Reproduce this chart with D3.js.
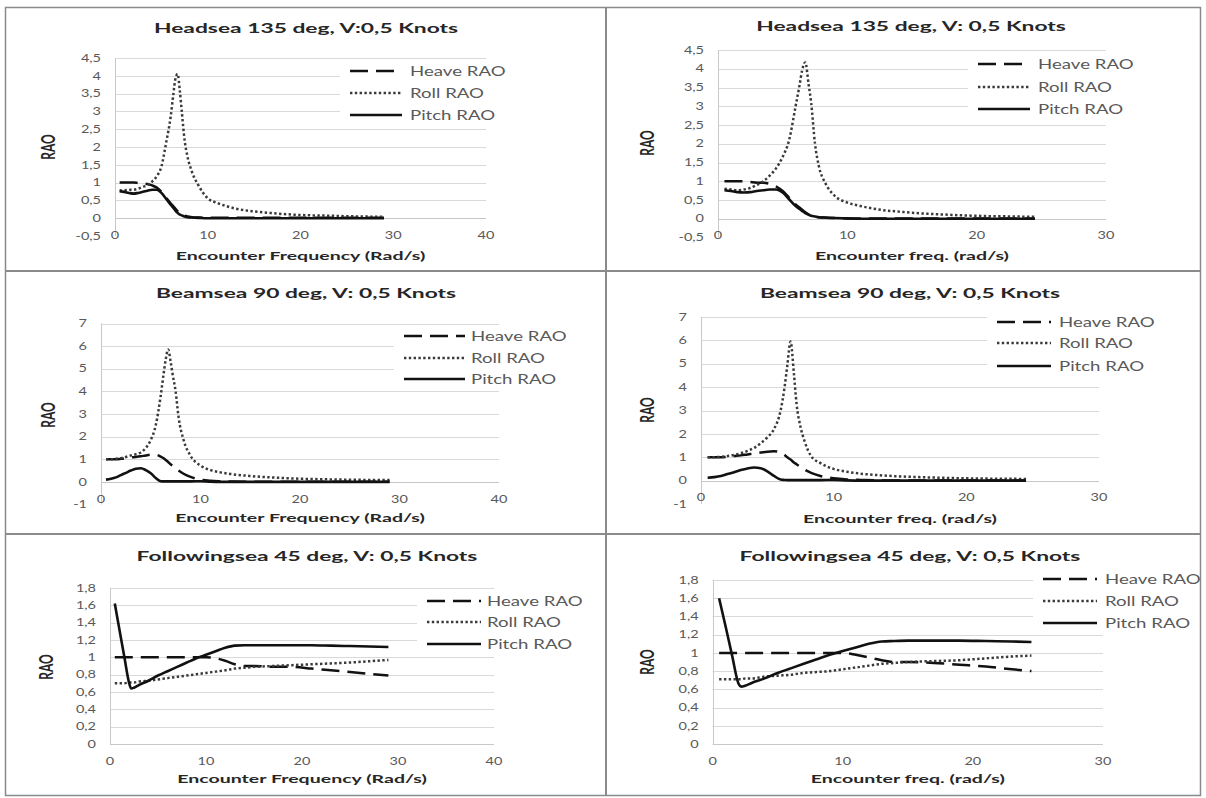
<!DOCTYPE html>
<html><head><meta charset="utf-8">
<script src="https://cdn.jsdelivr.net/npm/d3@7"></script>
<style>body{margin:0;background:#fff} svg{display:block}</style>
</head><body><svg id="c" width="1206" height="798"></svg>
<script>
// ---------------- DATA ----------------
const seriesNames = ["Heave RAO", "Roll RAO", "Pitch RAO"];
const titles = [
  "Headsea 135 deg, V:0,5 Knots", "Headsea 135 deg, V: 0,5 Knots",
  "Beamsea 90 deg, V: 0,5 Knots", "Beamsea 90 deg, V: 0,5 Knots",
  "Followingsea 45 deg, V: 0,5 Knots", "Followingsea 45 deg, V: 0,5 Knots"
];
const xTitleLeft = "Encounter Frequency (Rad/s)";
const xTitleRight = "Encounter freq. (rad/s)";
const yTitle = "RAO";

const xTicksLeft = [0, 10, 20, 30, 40];
const xTicksRight = [0, 10, 20, 30];
const yTicksHead = [-0.5, 0, 0.5, 1, 1.5, 2, 2.5, 3, 3.5, 4, 4.5];
const yTicksBeam = [-1, 0, 1, 2, 3, 4, 5, 6, 7];
const yTicksFollow = [0, 0.2, 0.4, 0.6, 0.8, 1, 1.2, 1.4, 1.6, 1.8];

const freqLeft  = [0.5,1,1.5,2,2.5,3,3.5,4,4.5,5,5.5,6,6.3,6.5,6.75,7,7.2,7.5,7.8,8.3,9,10,11,12,13,15,17,20,23,26,29];
const freqRight = [0.5,1,1.5,2,2.5,3,3.5,4,4.5,5,5.5,6,6.3,6.5,6.75,7,7.2,7.5,7.8,8.3,9,10,11,12,13,14,15,17,19,21,23,24.5];
const freqFollowLeft  = [0.5,1,1.5,2,2.2,2.5,3,4,5,6,7,8,9,10,11,12,13,14,15,17,19,21,23,25,27,29];
const freqFollowRight = [0.5,1,1.5,2,2.2,2.5,3,4,5,6,7,8,9,10,11,12,13,14,15,17,19,21,23,24.5];

// Headsea, left chart
const headLeftHeave = [1.0,1.0,1.0,1.0,0.99,0.98,0.96,0.92,0.86,0.74,0.58,0.42,0.33,0.27,0.2,0.14,0.11,0.07,0.05,0.03,0.02,0.01,0.01,0.01,0.01,0.01,0.01,0.01,0.01,0.01,0.01];
const headLeftRoll  = [0.78,0.78,0.8,0.8,0.83,0.88,0.93,1.03,1.18,1.45,2.1,2.85,3.5,3.9,4.05,3.55,3.0,2.2,1.75,1.3,0.92,0.56,0.43,0.34,0.27,0.19,0.14,0.09,0.07,0.05,0.04];
const headLeftPitch = [0.76,0.74,0.71,0.69,0.71,0.74,0.77,0.8,0.8,0.71,0.55,0.38,0.29,0.22,0.15,0.1,0.08,0.05,0.03,0.02,0.01,0,0,0,0,0,0,0,0,0,0];
// Headsea, right chart
const headRightHeave = [1.0,1.0,1.0,1.0,0.98,0.96,0.96,0.93,0.86,0.74,0.56,0.38,0.3,0.24,0.17,0.12,0.09,0.06,0.04,0.03,0.02,0.01,0.01,0.01,0.01,0.01,0.01,0.01,0.01,0.01,0.01,0.01];
const headRightRoll  = [0.8,0.78,0.76,0.78,0.82,0.9,1.0,1.15,1.35,1.65,2.1,3.0,3.55,3.95,4.17,3.6,3.1,2.0,1.4,0.95,0.62,0.43,0.34,0.27,0.22,0.19,0.16,0.12,0.09,0.07,0.06,0.05];
const headRightPitch = [0.76,0.74,0.71,0.7,0.71,0.74,0.76,0.78,0.78,0.7,0.52,0.34,0.26,0.21,0.15,0.11,0.08,0.06,0.04,0.03,0.02,0.01,0,0,0,0,0,0,0,0,0,0];
// Beamsea, left chart
const beamLeftHeave = [1.0,1.0,1.0,1.02,1.05,1.08,1.1,1.13,1.17,1.2,1.2,1.12,1.04,0.97,0.88,0.78,0.71,0.6,0.5,0.36,0.22,0.1,0.05,0.03,0.02,0.01,0.01,0.01,0.01,0.01,0.01];
const beamLeftRoll  = [1.0,1.0,1.02,1.05,1.1,1.17,1.22,1.3,1.5,1.85,2.5,3.8,4.8,5.4,5.85,5.3,4.75,4.0,2.85,1.85,1.15,0.72,0.52,0.42,0.35,0.26,0.2,0.14,0.11,0.09,0.08];
const beamLeftPitch = [0.1,0.14,0.2,0.3,0.4,0.5,0.58,0.6,0.52,0.38,0.17,0.03,0.02,0.02,0.02,0.02,0.02,0.02,0.02,0.02,0.02,0.03,0.01,0,0,0,0,0,0,0,0];
// Beamsea, right chart
const beamRightHeave = [1.0,1.0,1.0,1.02,1.05,1.08,1.12,1.16,1.2,1.24,1.26,1.2,1.1,1.0,0.9,0.78,0.7,0.58,0.47,0.33,0.2,0.1,0.05,0.03,0.02,0.01,0.01,0.01,0.01,0.01,0.01,0.01];
const beamRightRoll  = [1.0,1.0,1.02,1.05,1.1,1.17,1.27,1.4,1.6,1.85,2.2,3.0,4.0,4.9,5.95,4.6,3.3,2.3,1.7,1.05,0.75,0.5,0.38,0.3,0.25,0.21,0.18,0.14,0.11,0.09,0.08,0.07];
const beamRightPitch = [0.12,0.15,0.2,0.28,0.36,0.45,0.52,0.56,0.53,0.4,0.2,0.05,0.03,0.02,0.02,0.02,0.02,0.02,0.02,0.02,0.02,0.03,0.01,0,0,0,0,0,0,0,0,0];
// Followingsea, left chart
const followLeftHeave = [1.0,1.0,1.0,1.0,1.0,1.0,1.0,1.0,1.0,1.0,1.0,1.0,1.0,1.0,0.99,0.96,0.92,0.9,0.9,0.89,0.89,0.87,0.85,0.83,0.81,0.79];
const followLeftRoll  = [0.7,0.7,0.7,0.71,0.71,0.71,0.72,0.73,0.745,0.76,0.775,0.79,0.805,0.82,0.835,0.85,0.87,0.88,0.89,0.9,0.91,0.92,0.93,0.94,0.955,0.97];
const followLeftPitch = [1.62,1.31,1.0,0.7,0.64,0.65,0.68,0.73,0.79,0.84,0.89,0.94,0.99,1.03,1.07,1.11,1.135,1.14,1.14,1.14,1.14,1.14,1.135,1.13,1.125,1.12];
// Followingsea, right chart
const followRightHeave = [1.0,1.0,1.0,1.0,1.0,1.0,1.0,1.0,1.0,1.0,1.0,1.0,1.0,1.0,0.98,0.95,0.92,0.9,0.9,0.89,0.87,0.85,0.82,0.8];
const followRightRoll  = [0.71,0.71,0.71,0.71,0.71,0.72,0.72,0.74,0.75,0.76,0.78,0.79,0.8,0.82,0.84,0.86,0.88,0.89,0.9,0.91,0.92,0.94,0.96,0.97];
const followRightPitch = [1.6,1.29,0.97,0.66,0.63,0.64,0.67,0.72,0.78,0.83,0.88,0.93,0.98,1.02,1.06,1.1,1.125,1.13,1.135,1.135,1.135,1.13,1.125,1.12];

// ---------------- LAYOUT / STYLE ----------------
const SX_TICK = 1.38, SX_TITLE = 1.63, SX_AXIS = 1.63, SX_LEGEND = 1.49;
const FONT = "Lato, 'Open Sans', sans-serif";
const styles = [
  {stroke: "#111", width: 2.5, dash: "18,8"},
  {stroke: "#3a3a3a", width: 2.5, dash: "2.4,2.4"},
  {stroke: "#111", width: 2.6, dash: null}
];
const panels = [
  {title: titles[0], freq: freqLeft, series: [headLeftHeave, headLeftRoll, headLeftPitch], yTicks: yTicksHead, xTicks: xTicksLeft, xTitle: xTitleLeft,
   box: {x0: 115, x1: 486, y0: 58, y1: 236}, titleXY: [306, 27], yTitleXY: [48, 147], xTitleY: 255,
   legend: {rows: [71, 93, 115], sx0: 350, sx1: 402, tx: 410}},
  {title: titles[1], freq: freqRight, series: [headRightHeave, headRightRoll, headRightPitch], yTicks: yTicksHead, xTicks: xTicksRight, xTitle: xTitleRight,
   box: {x0: 718, x1: 1106, y0: 50, y1: 237.5}, titleXY: [911, 25], yTitleXY: [647, 143], xTitleY: 255,
   legend: {rows: [64, 87, 109], sx0: 978, sx1: 1030, tx: 1038}},
  {title: titles[2], freq: freqLeft, series: [beamLeftHeave, beamLeftRoll, beamLeftPitch], yTicks: yTicksBeam, xTicks: xTicksLeft, xTitle: xTitleLeft,
   box: {x0: 101, x1: 499, y0: 323.5, y1: 504.5}, titleXY: [306, 292], yTitleXY: [48, 415], xTitleY: 517,
   legend: {rows: [336, 358, 379], sx0: 404, sx1: 465, tx: 471}},
  {title: titles[3], freq: freqRight, series: [beamRightHeave, beamRightRoll, beamRightPitch], yTicks: yTicksBeam, xTicks: xTicksRight, xTitle: xTitleRight,
   box: {x0: 701, x1: 1099, y0: 317, y1: 504}, titleXY: [910, 292], yTitleXY: [647, 410], xTitleY: 518,
   legend: {rows: [322, 343, 366], sx0: 997, sx1: 1051, tx: 1059}},
  {title: titles[4], freq: freqFollowLeft, series: [followLeftHeave, followLeftRoll, followLeftPitch], yTicks: yTicksFollow, xTicks: xTicksLeft, xTitle: xTitleLeft,
   box: {x0: 110, x1: 494, y0: 588, y1: 744}, titleXY: [307, 555], yTitleXY: [46, 667], xTitleY: 778,
   legend: {rows: [601, 622, 644], sx0: 427, sx1: 481, tx: 487}},
  {title: titles[5], freq: freqFollowRight, series: [followRightHeave, followRightRoll, followRightPitch], yTicks: yTicksFollow, xTicks: xTicksRight, xTitle: xTitleRight,
   box: {x0: 712.6, x1: 1103, y0: 580, y1: 744}, titleXY: [910, 555], yTitleXY: [647, 662], xTitleY: 778,
   legend: {rows: [579, 601, 623], sx0: 1043, sx1: 1097, tx: 1105}}
];

const svg = d3.select("#c");
svg.append("rect").attr("width", 1206).attr("height", 798).attr("fill", "#fff");

const fmt = v => String(v).replace(".", ",");

function stext(parent, x, y, str, o) {
  const sx = o.sx || SX_TICK;
  return parent.append("text")
    .attr("transform", o.rotate ? `translate(${x},${y}) rotate(${o.rotate}) scale(1,${sx})` : `translate(${x},${y}) scale(${sx},1)`)
    .attr("text-anchor", o.anchor || "middle")
    .attr("dominant-baseline", "central")
    .attr("font-family", FONT)
    .attr("font-size", o.size)
    .attr("font-weight", o.weight || "normal")
    .attr("fill", o.fill || "#595959")
    .text(str);
}

panels.forEach(p => {
  const g = svg.append("g");
  const x = d3.scaleLinear().domain([0, d3.max(p.xTicks)]).range([p.box.x0, p.box.x1]);
  const y = d3.scaleLinear().domain(d3.extent(p.yTicks)).range([p.box.y1, p.box.y0]);

  // gridlines
  g.append("g").selectAll("line").data(p.yTicks.filter(t => t > 0)).join("line")
    .attr("x1", x.range()[0]).attr("x2", x.range()[1])
    .attr("y1", d => Math.round(y(d)) + 0.5).attr("y2", d => Math.round(y(d)) + 0.5)
    .attr("stroke", "#d9d9d9").attr("stroke-width", 1);
  // axis lines
  g.append("line").attr("x1", x.range()[0]).attr("x2", x.range()[1])
    .attr("y1", Math.round(y(0)) + 0.5).attr("y2", Math.round(y(0)) + 0.5)
    .attr("stroke", "#c8c8c8").attr("stroke-width", 1);
  g.append("line").attr("x1", Math.round(x(0)) + 0.5).attr("x2", Math.round(x(0)) + 0.5)
    .attr("y1", y.range()[1]).attr("y2", y.range()[0])
    .attr("stroke", "#c8c8c8").attr("stroke-width", 1);

  // y tick labels
  p.yTicks.forEach(t => stext(g, x(0) - 14, y(t), fmt(t), {size: 10.5, anchor: "end"}));
  // x tick labels
  p.xTicks.forEach(t => stext(g, x(t), y(0) + 17, fmt(t), {size: 10.5}));

  // series
  const line = d3.line().x((d, i) => x(p.freq[i])).y(d => y(d)).curve(d3.curveMonotoneX);
  p.series.forEach((s, k) => {
    g.append("path").attr("d", line(s)).attr("fill", "none")
      .attr("stroke", styles[k].stroke).attr("stroke-width", styles[k].width)
      .attr("stroke-dasharray", styles[k].dash).attr("stroke-linejoin", "round");
  });

  // legend
  const L = p.legend;
  g.append("rect").attr("x", L.sx0 - 10).attr("y", L.rows[0] - 11)
    .attr("width", L.tx + 105 - (L.sx0 - 10)).attr("height", L.rows[2] - L.rows[0] + 22).attr("fill", "#fff");
  seriesNames.forEach((n, k) => {
    g.append("line").attr("x1", L.sx0).attr("x2", L.sx1).attr("y1", L.rows[k]).attr("y2", L.rows[k])
      .attr("stroke", styles[k].stroke).attr("stroke-width", styles[k].width).attr("stroke-dasharray", styles[k].dash);
    stext(g, L.tx, L.rows[k], n, {size: 12.5, anchor: "start", sx: SX_LEGEND});
  });

  // titles
  stext(g, p.titleXY[0], p.titleXY[1], p.title, {size: 14, weight: "bold", fill: "#262626", sx: SX_TITLE});
  stext(g, (p.box.x0 + p.box.x1) / 2, p.xTitleY, p.xTitle, {size: 12, weight: "bold", fill: "#262626", sx: SX_AXIS});
  stext(g, p.yTitleXY[0], p.yTitleXY[1], yTitle, {size: 12, weight: "bold", fill: "#262626", rotate: -90, sx: 1.5});
});

// table borders
const B = svg.append("g").attr("stroke", "#8a8a8a").attr("fill", "none");
B.append("rect").attr("x", 5.5).attr("y", 7.5).attr("width", 1195).attr("height", 788).attr("stroke-width", 1.5);
B.append("line").attr("x1", 606).attr("x2", 606).attr("y1", 7).attr("y2", 796).attr("stroke-width", 2);
B.append("line").attr("x1", 5).attr("x2", 1201).attr("y1", 271).attr("y2", 271).attr("stroke-width", 2);
B.append("line").attr("x1", 5).attr("x2", 1201).attr("y1", 534).attr("y2", 534).attr("stroke-width", 2);
</script></body></html>
